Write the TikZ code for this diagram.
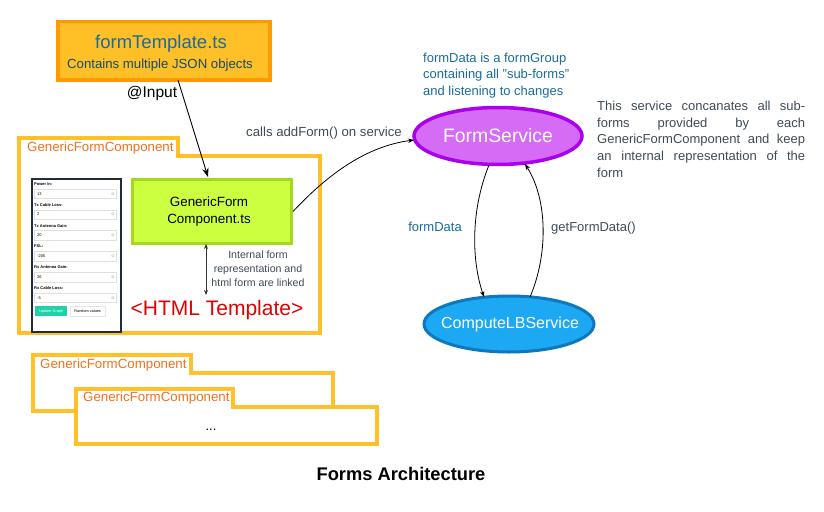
\documentclass[tikz,border=0pt]{standalone}
\usepackage{fontspec}
\setmainfont{Liberation Sans}
\usetikzlibrary{arrows.meta,shapes.geometric}
\definecolor{tplfill}{HTML}{FFBF26}
\definecolor{tplline}{HTML}{FF9900}
\definecolor{foldline}{HTML}{FFC02A}
\definecolor{lblorange}{HTML}{F2711C}
\definecolor{txtblue}{HTML}{1A6C9C}
\definecolor{txtgrey}{HTML}{3F4B58}
\definecolor{limefill}{HTML}{CCFF40}
\definecolor{limeline}{HTML}{A3D91A}
\definecolor{fsfill}{HTML}{D66BF5}
\definecolor{fsline}{HTML}{AA00EE}
\definecolor{cbfill}{HTML}{1CA8F2}
\definecolor{cbline}{HTML}{0E78BE}
\definecolor{htmlred}{HTML}{E00000}
\definecolor{panelline}{HTML}{1F2D3A}
\definecolor{teal}{HTML}{1DD1A8}
\newcommand\myfs[2]{\fontsize{#1}{#2}\selectfont}
\tikzset{
  folder/.style={draw=foldline, line width=3.5pt, line join=miter},
  foldlabel/.style={text=lblorange, font=\myfs{13.3}{16}, anchor=west, inner sep=0pt},
  conn/.style={draw=black, line width=0.8pt, -{Stealth[length=6pt,width=4.5pt]}},
  note/.style={inner sep=0pt, align=center},
  field/.style={draw=black!12, line width=0.4pt, fill=white},
  tiny/.style={inner sep=0pt, anchor=west, font=\myfs{4}{5}},
}
\begin{document}
\begin{tikzpicture}[x=1pt,y=-1pt]
\useasboundingbox[fill=white] (0,0) rectangle (824,511);

% formTemplate box
\node[draw=tplline, fill=tplfill, line width=3.5pt, minimum width=212pt, minimum height=58pt, anchor=north west, inner sep=0pt] (tpl) at (56,20) {};
\node[note, text=txtblue, font=\myfs{18.5}{22}] (tpltitle) at (161,44) {formTemplate.ts};
\node[note, text=txtblue!70!black, font=\myfs{13.2}{16}] (tplsub) at (160,65) {Contains multiple JSON objects};

% main GenericFormComponent folder
\draw[folder] (19,138) -- (178,138) -- (178,156) -- (320,156) -- (320,333) -- (19,333) -- cycle;
\node[foldlabel] (gfclabel) at (27,148) {GenericFormComponent};

% form panel
\node[draw=panelline, line width=1.8pt, fill=white, anchor=north west, minimum width=89pt, minimum height=153pt, inner sep=0pt] (panel) at (31,178) {};
\foreach \lab/\val [count=\i] in {Power In:/13, Tx Cable Loss:/2, Tx Antenna Gain:/20, FSL:/-205, Rx Antenna Gain:/26, Rx Cable Loss:/-5}{
  \pgfmathsetmacro\yy{184+(\i-1)*20.8}
  \node[tiny, font=\bfseries\myfs{4}{5}] (fl\i) at (34,\yy) {\lab};
  \draw[field] (34,\yy+5) rectangle (116,\yy+14.5);
  \node[tiny] (fv\i) at (37,\yy+9.8) {\val};
  \node[tiny, text=black!50, font=\myfs{3.5}{4}] (fs\i) at (111,\yy+9.8) {$\diamond$};
}
\node[fill=teal, minimum width=32pt, minimum height=10pt, inner sep=0pt, text=white, font=\myfs{3.8}{5}, anchor=north west] (btn1) at (35,306) {Update Graph};
\node[draw=black!10, fill=white, minimum width=35pt, minimum height=10pt, inner sep=0pt, font=\myfs{3.8}{5}, anchor=north west] (btn2) at (70,306) {Random values};

% GenericForm Component.ts box
\node[draw=limeline, fill=limefill, line width=3pt, minimum width=159pt, minimum height=64pt, anchor=north west, inner sep=0pt] (gfcts) at (131,178) {};
\node[note, font=\myfs{13.4}{17}] (gfctstext) at (209,212) {GenericForm\\Component.ts};

% HTML template label
\node[note, text=htmlred, font=\myfs{21}{24}] (html) at (217,310) {<HTML Template>};
\coordinate (htmltop) at (206,295);
\draw[draw=black!80, line width=0.8pt, {Stealth[length=5pt,width=4pt]}-{Stealth[length=5pt,width=4pt]}] (206,244) -- (htmltop);
\node[note, text=txtgrey, font=\myfs{10.6}{14}] (linked) at (258,269) {Internal form\\representation and\\html form are linked};

% formTemplate -> component arrow
\draw[draw=black, line width=0.9pt, -{Stealth[length=9pt,width=6.5pt]}] (178,80) -- (208,177);
\node[inner sep=0pt, font=\myfs{15.5}{18}] (input) at (152,93) {@Input};

% FormService
\node[ellipse, draw=fsline, fill=fsfill, line width=3.5pt, minimum width=168pt, minimum height=57pt, inner sep=0pt] (fs) at (498,136) {};
\node[inner sep=0pt, text=white, font=\myfs{19.4}{22}] (fstext) at (498,136) {FormService};
\node[inner sep=0pt, align=left, anchor=west, text=txtblue, font=\myfs{13}{16.5}] (fsnote) at (423,75.5) {formData is a formGroup\\containing all \symbol{34}sub-forms\symbol{34}\\and listening to changes};

% right paragraph
\node[inner sep=0pt, align=left, anchor=north west, text=txtgrey, font=\myfs{13}{16.6}] (para) at (597,101) {%
\makebox[208pt][s]{This service concanates all sub-}\\
\makebox[208pt][s]{forms provided by each}\\
\makebox[208pt][s]{GenericFormComponent and keep}\\
\makebox[208pt][s]{an internal representation of the}\\
form};

% ComputeLBService
\node[ellipse, draw=cbline, fill=cbfill, line width=3pt, minimum width=170pt, minimum height=56pt, inner sep=0pt] (cb) at (509,324) {};
\node[inner sep=0pt, text=white, font=\myfs{16}{18}] (cbtext) at (510,324) {ComputeLBService};

% addForm arrow
\coordinate (fsw) at (414,140);
\draw[conn] (gfcts.east) .. controls (330,172) and (368,146) .. (fsw);
\node[inner sep=0pt, text=txtgrey, font=\myfs{13.2}{16}] (addlbl) at (324,133) {calls addForm() on service};

% formData arrow
\coordinate (fsb1) at (489,165);
\coordinate (cbt1) at (484,297);
\draw[conn] (fsb1) .. controls (470,212) and (472,262) .. (cbt1);
\node[inner sep=0pt, text=txtblue, font=\myfs{13}{16}] (fdlbl) at (435,227) {formData};

% getFormData arrow
\coordinate (cbt2) at (530,297);
\coordinate (fsb2) at (525,164);
\draw[conn] (cbt2) .. controls (548,255) and (548,200) .. (fsb2);
\node[inner sep=0pt, anchor=west, text=txtgrey, font=\myfs{13}{16}] (gfdlbl) at (551,228) {getFormData()};

% more component folders
\draw[folder] (33,355) -- (191,355) -- (191,373) -- (333,373) -- (333,411) -- (33,411) -- cycle;
\node[foldlabel] (f2label) at (40,365) {GenericFormComponent};
\draw[folder, fill=white] (76,389) -- (233,389) -- (233,407) -- (377,407) -- (377,444) -- (76,444) -- cycle;
\node[foldlabel] (f3label) at (83,398) {GenericFormComponent};
\node[inner sep=0pt, anchor=base, font=\myfs{13}{16}] (dots) at (211,430) {...};

% title
\node[inner sep=0pt, font=\bfseries\myfs{18.3}{21}] (title) at (401,474) {Forms Architecture};
\end{tikzpicture}
\end{document}
